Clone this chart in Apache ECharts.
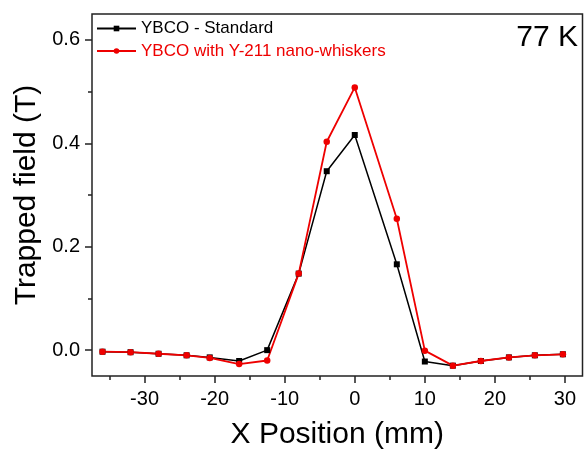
<!DOCTYPE html>
<html>
<head>
<meta charset="utf-8">
<script src="https://cdn.jsdelivr.net/npm/echarts@6/dist/echarts.min.js"></script>
<style>html,body{margin:0;padding:0;background:#fff}#c{width:584px;height:450px}</style>
</head>
<body>
<div id="c"></div>
<script>
var positions = [-36, -32, -28, -24, -20.7, -16.5, -12.5, -8, -4, 0, 6, 10, 14, 18, 22, 25.7, 29.7];
var standard = [-0.003, -0.004, -0.007, -0.010, -0.014, -0.021, 0.000, 0.148, 0.346, 0.416, 0.166, -0.022, -0.030, -0.021, -0.014, -0.010, -0.008];
var whiskers = [-0.003, -0.004, -0.007, -0.010, -0.015, -0.027, -0.020, 0.148, 0.403, 0.508, 0.254, -0.001, -0.030, -0.021, -0.014, -0.010, -0.008];
var xMajor = [-30, -20, -10, 0, 10, 20, 30];
var xMinor = [-35, -25, -15, -5, 5, 15, 25];
var yMajor = [0, 0.2, 0.4, 0.6];
var yMinor = [0.1, 0.3, 0.5];
var seriesNames = ['YBCO - Standard', 'YBCO with Y-211 nano-whiskers'];
var tempLabel = '77 K';

var FONT = '"Liberation Sans", Arial, sans-serif';
var AX = '#222';
var RED = '#ee0000';

function pairs(xs, ys) { return xs.map(function (x, i) { return [x, ys[i]]; }); }

var chart = echarts.init(document.getElementById('c'), null, { renderer: 'canvas' });
chart.setOption({
  animation: false,
  backgroundColor: '#fff',
  textStyle: { fontFamily: FONT },
  grid: { left: 92, right: 1.5, top: 14, bottom: 74, containLabel: false, outerBoundsMode: 'none',
    show: true, borderColor: AX, borderWidth: 1.5, backgroundColor: 'transparent' },
  legend: {
    orient: 'vertical', left: 96, top: 20, padding: 0, itemGap: 5.5,
    itemWidth: 39, itemHeight: 7,
    textStyle: { fontSize: 17, fontFamily: FONT, lineHeight: 17 },
    data: [
      { name: seriesNames[0], textStyle: { color: '#000' } },
      { name: seriesNames[1], textStyle: { color: RED } }
    ]
  },
  graphic: [{
    type: 'text', right: 6, top: 23,
    style: { text: tempLabel, fontSize: 30, fontFamily: FONT, fill: '#000' }
  }],
  xAxis: [{
    type: 'value', min: -37.5, max: 32.5,
    name: 'X Position (mm)', nameLocation: 'middle', nameGap: 44,
    nameTextStyle: { fontSize: 30, color: '#000', fontFamily: FONT },
    axisLine: { show: false, onZero: false },
    axisTick: { show: true, length: 7, lineStyle: { color: AX, width: 1.5 }, customValues: xMajor },
    axisLabel: { fontSize: 20, color: '#000', margin: 13, customValues: xMajor, fontFamily: FONT },
    splitLine: { show: false }
  }, {
    type: 'value', min: -37.5, max: 32.5, position: 'bottom',
    axisLine: { show: false, onZero: false },
    axisTick: { show: true, length: 4, lineStyle: { color: AX, width: 1.5 }, customValues: xMinor },
    axisLabel: { show: false },
    splitLine: { show: false }
  }],
  yAxis: [{
    type: 'value', min: -0.05, max: 0.65,
    name: 'Trapped field (T)', nameLocation: 'middle', nameGap: 47,
    nameTextStyle: { fontSize: 30, color: '#000', fontFamily: FONT },
    axisLine: { show: false, onZero: false },
    axisTick: { show: true, length: 7, lineStyle: { color: AX, width: 1.5 }, customValues: yMajor },
    axisLabel: { fontSize: 20, color: '#000', margin: 12, customValues: yMajor, fontFamily: FONT,
      formatter: function (v) { return v.toFixed(1); } },
    splitLine: { show: false }
  }, {
    type: 'value', min: -0.05, max: 0.65, position: 'left',
    axisLine: { show: false, onZero: false },
    axisTick: { show: true, length: 4, lineStyle: { color: AX, width: 1.5 }, customValues: yMinor },
    axisLabel: { show: false },
    splitLine: { show: false }
  }],
  series: [{
    name: seriesNames[0], type: 'line', xAxisIndex: 0, yAxisIndex: 0,
    data: pairs(positions, standard),
    symbol: 'rect', symbolSize: 6,
    lineStyle: { color: '#000', width: 1.5 },
    itemStyle: { color: '#000' }
  }, {
    name: seriesNames[1], type: 'line', xAxisIndex: 0, yAxisIndex: 0,
    data: pairs(positions, whiskers),
    symbol: 'circle', symbolSize: 6.5,
    lineStyle: { color: RED, width: 1.8 },
    itemStyle: { color: RED }
  }]
});
</script>
</body>
</html>
